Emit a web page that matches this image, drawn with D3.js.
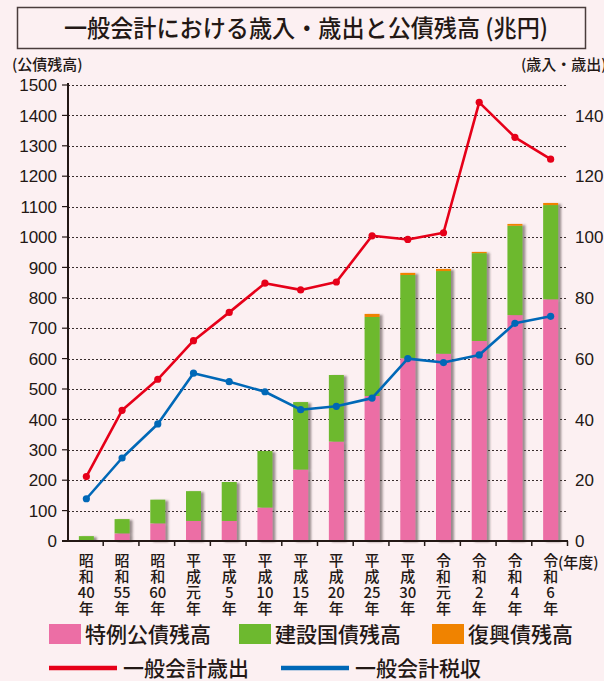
<!DOCTYPE html>
<html lang="ja">
<head>
<meta charset="utf-8">
<script src="https://cdn.jsdelivr.net/npm/d3@7/dist/d3.min.js"></script>
<style>
  html, body { margin: 0; padding: 0; background: #fcf0f2; }
  svg { display: block; }
  text { fill: #231815; }
</style>
</head>
<body>
<svg id="chart" width="604" height="681"></svg>
<script>
// 年度
const categories = ["昭和40年","昭和55年","昭和60年","平成元年","平成5年","平成10年","平成15年",
                    "平成20年","平成25年","平成30年","令和元年","令和2年","令和4年","令和6年"];
// 縦書き用に分割した年度ラベル
const categoryLines = [["昭","和","40","年"],["昭","和","55","年"],["昭","和","60","年"],
  ["平","成","元","年"],["平","成","5","年"],["平","成","10","年"],["平","成","15","年"],
  ["平","成","20","年"],["平","成","25","年"],["平","成","30","年"],["令","和","元","年"],
  ["令","和","2","年"],["令","和","4","年"],["令","和","6","年"]];

// 公債残高（兆円）
const tokureiDebt = [0, 25, 58, 66, 66, 110, 235, 327, 477, 601, 616, 658, 743, 795];
const kensetsuDebt = [16, 47, 78, 98, 128, 186, 222, 219, 260, 274, 272, 289, 294, 310];
const fukkoDebt   = [0, 0, 0, 0, 0, 0, 0, 0, 10, 7, 7, 4, 6, 7];

// 一般会計（兆円）
const expenditure = [21.2, 43, 53.2, 65.9, 75.2, 84.8, 82.6, 85.2, 100.4, 99.2, 101.4, 144.3, 132.8, 125.6];
const taxRevenue  = [13.9, 27.3, 38.5, 55.2, 52.4, 49.1, 43.2, 44.3, 47.0, 60.0, 58.7, 61.2, 71.6, 73.9];

// 目盛り
const leftTicks = [0,100,200,300,400,500,600,700,800,900,1000,1100,1200,1300,1400,1500];
const rightTicks = [0,20,40,60,80,100,120,140];
const gridTicks = [100,200,300,400,500,600,700,800,900,1000,1100,1200,1300,1400,1500];

const seriesNames = ["特例公債残高","建設国債残高","復興債残高"];
const lineNames = ["一般会計歳出","一般会計税収"];

const colors = {
  tokurei: "#ec6ea5", kensetsu: "#6db92f", fukko: "#f08300",
  exp: "#e60019", tax: "#0068b7", ink: "#231815"
};
const numFont = "'Liberation Sans', Arial, 'Noto Sans CJK JP', sans-serif";
const jpFont = "'Noto Sans CJK JP', sans-serif";

const svg = d3.select("#chart");
const defs = svg.append("defs");
const shadow = defs.append("filter").attr("id", "barShadow")
  .attr("x", "-30%").attr("y", "-5%").attr("width", "180%").attr("height", "110%");
shadow.append("feDropShadow").attr("dx", 3).attr("dy", 1)
  .attr("stdDeviation", 1.3).attr("flood-color", "#4a3a3a").attr("flood-opacity", 0.55);

// 見出し
svg.append("rect").attr("x", 17.5).attr("y", 7.5).attr("width", 568).attr("height", 41)
  .attr("fill", "none").attr("stroke", "#4a3c3c").attr("stroke-width", 1.5);
svg.append("text").attr("x", 64).attr("y", 37)
  .attr("font-family", jpFont).attr("font-size", 24).attr("font-weight", 500)
  .attr("textLength", 484).attr("lengthAdjust", "spacingAndGlyphs")
  .text("一般会計における歳入・歳出と公債残高 (兆円)");

svg.append("text").attr("x", 12).attr("y", 70)
  .attr("font-family", jpFont).attr("font-size", 15).attr("font-weight", 500)
  .text("(公債残高)");
svg.append("text").attr("x", 521).attr("y", 70)
  .attr("font-family", jpFont).attr("font-size", 15).attr("font-weight", 500)
  .text("(歳入・歳出)");

// スケール
const x = d3.scaleBand().domain(categories).range([67.5, 567.5]).padding(0);
const yL = d3.scaleLinear().domain([0, 1500]).range([541, 85]);
const yR = d3.scaleLinear().domain([0, 150]).range([541, 85]);
const barW = x.bandwidth() * 0.42;
const cx = d => x(d) + x.bandwidth() / 2 + 1;

// 補助線（点線）
svg.append("g").selectAll("line").data(gridTicks).join("line")
  .attr("x1", 68).attr("x2", 566)
  .attr("y1", d => Math.round(yL(d)) + 0.5).attr("y2", d => Math.round(yL(d)) + 0.5)
  .attr("stroke", "#3a2e2e").attr("stroke-width", 1).attr("stroke-dasharray", "2,2");

// 積み上げ棒
const stackData = categories.map((c, i) => ({
  cat: c, tokurei: tokureiDebt[i], kensetsu: kensetsuDebt[i], fukko: fukkoDebt[i]
}));
const stack = d3.stack().keys(["tokurei", "kensetsu", "fukko"])(stackData);
const barGroups = svg.append("g").selectAll("g").data(stackData).join("g")
  .attr("filter", "url(#barShadow)");
barGroups.each(function(d, i) {
  const g = d3.select(this);
  stack.forEach(layer => {
    const seg = layer[i];
    if (seg[1] - seg[0] <= 0) return;
    g.append("rect")
      .attr("x", cx(d.cat) - barW / 2).attr("width", barW)
      .attr("y", yL(seg[1])).attr("height", yL(seg[0]) - yL(seg[1]))
      .attr("fill", colors[layer.key]);
  });
});

// 軸
const axisG = svg.append("g").attr("stroke", colors.ink).attr("fill", "none");
axisG.append("line").attr("x1", 68).attr("x2", 68).attr("y1", 83).attr("y2", 541)
  .attr("stroke-width", 2);
axisG.append("line").attr("x1", 62).attr("x2", 568).attr("y1", 541).attr("y2", 541)
  .attr("stroke-width", 2);
axisG.selectAll("line.lt").data(leftTicks).join("line").attr("class", "lt")
  .attr("x1", 62).attr("x2", 68).attr("y1", d => yL(d)).attr("y2", d => yL(d))
  .attr("stroke-width", 1.2);
const bounds = categories.map(c => x(c)).concat([x(categories[categories.length - 1]) + x.bandwidth()]);
axisG.selectAll("line.bt").data(bounds.slice(1)).join("line").attr("class", "bt")
  .attr("x1", d => d).attr("x2", d => d).attr("y1", 541).attr("y2", 546)
  .attr("stroke-width", 1.5);

svg.append("g").selectAll("text").data(leftTicks).join("text")
  .attr("x", 57).attr("y", d => yL(d)).attr("dy", "0.36em")
  .attr("text-anchor", "end").attr("font-family", numFont).attr("font-size", 17)
  .text(d => d);
svg.append("g").selectAll("text").data(rightTicks).join("text")
  .attr("x", 575).attr("y", d => yR(d)).attr("dy", "0.36em")
  .attr("font-family", numFont).attr("font-size", 17)
  .text(d => d);

// 年度ラベル（縦書き：1つのtextに行ごとのtspan）
svg.append("g").selectAll("text").data(categories).join("text")
  .attr("text-anchor", "middle").attr("font-family", jpFont)
  .attr("font-size", 15).attr("font-weight", 500)
  .each(function(c, i) {
    d3.select(this).selectAll("tspan").data(categoryLines[i]).join("tspan")
      .attr("x", cx(c)).attr("y", (d, k) => 565.5 + k * 16)
      .text(d => d);
  });
svg.append("text").attr("x", 558).attr("y", 563).attr("dy", "0.36em")
  .attr("font-family", jpFont).attr("font-size", 15).attr("font-weight", 500)
  .text("(年度)");

// 折れ線
function drawLine(values, color) {
  const line = d3.line().x((d, i) => cx(categories[i])).y(d => yR(d));
  svg.append("path").datum(values).attr("d", line)
    .attr("fill", "none").attr("stroke", color).attr("stroke-width", 2.6)
    .attr("stroke-linejoin", "round");
  svg.append("g").selectAll("circle").data(values).join("circle")
    .attr("cx", (d, i) => cx(categories[i])).attr("cy", d => yR(d))
    .attr("r", 3.6).attr("fill", color);
}
drawLine(expenditure, colors.exp);
drawLine(taxRevenue, colors.tax);

// 凡例
const legendRects = [
  { x: 49, text: 85, color: colors.tokurei, name: seriesNames[0] },
  { x: 239, text: 275, color: colors.kensetsu, name: seriesNames[1] },
  { x: 432, text: 468, color: colors.fukko, name: seriesNames[2] }
];
const lg = svg.append("g");
legendRects.forEach(d => {
  lg.append("rect").attr("x", d.x).attr("y", 624).attr("width", 32).attr("height", 20)
    .attr("fill", d.color);
  lg.append("text").attr("x", d.text).attr("y", 634).attr("dy", "0.36em")
    .attr("font-family", jpFont).attr("font-size", 21).attr("font-weight", 500)
    .text(d.name);
});
const legendLines = [
  { x1: 49, x2: 117, text: 123, color: colors.exp, name: lineNames[0] },
  { x1: 281, x2: 349, text: 355, color: colors.tax, name: lineNames[1] }
];
legendLines.forEach(d => {
  lg.append("line").attr("x1", d.x1).attr("x2", d.x2).attr("y1", 668).attr("y2", 668)
    .attr("stroke", d.color).attr("stroke-width", 4.5);
  lg.append("text").attr("x", d.text).attr("y", 668).attr("dy", "0.36em")
    .attr("font-family", jpFont).attr("font-size", 21).attr("font-weight", 500)
    .text(d.name);
});
</script>
</body>
</html>
